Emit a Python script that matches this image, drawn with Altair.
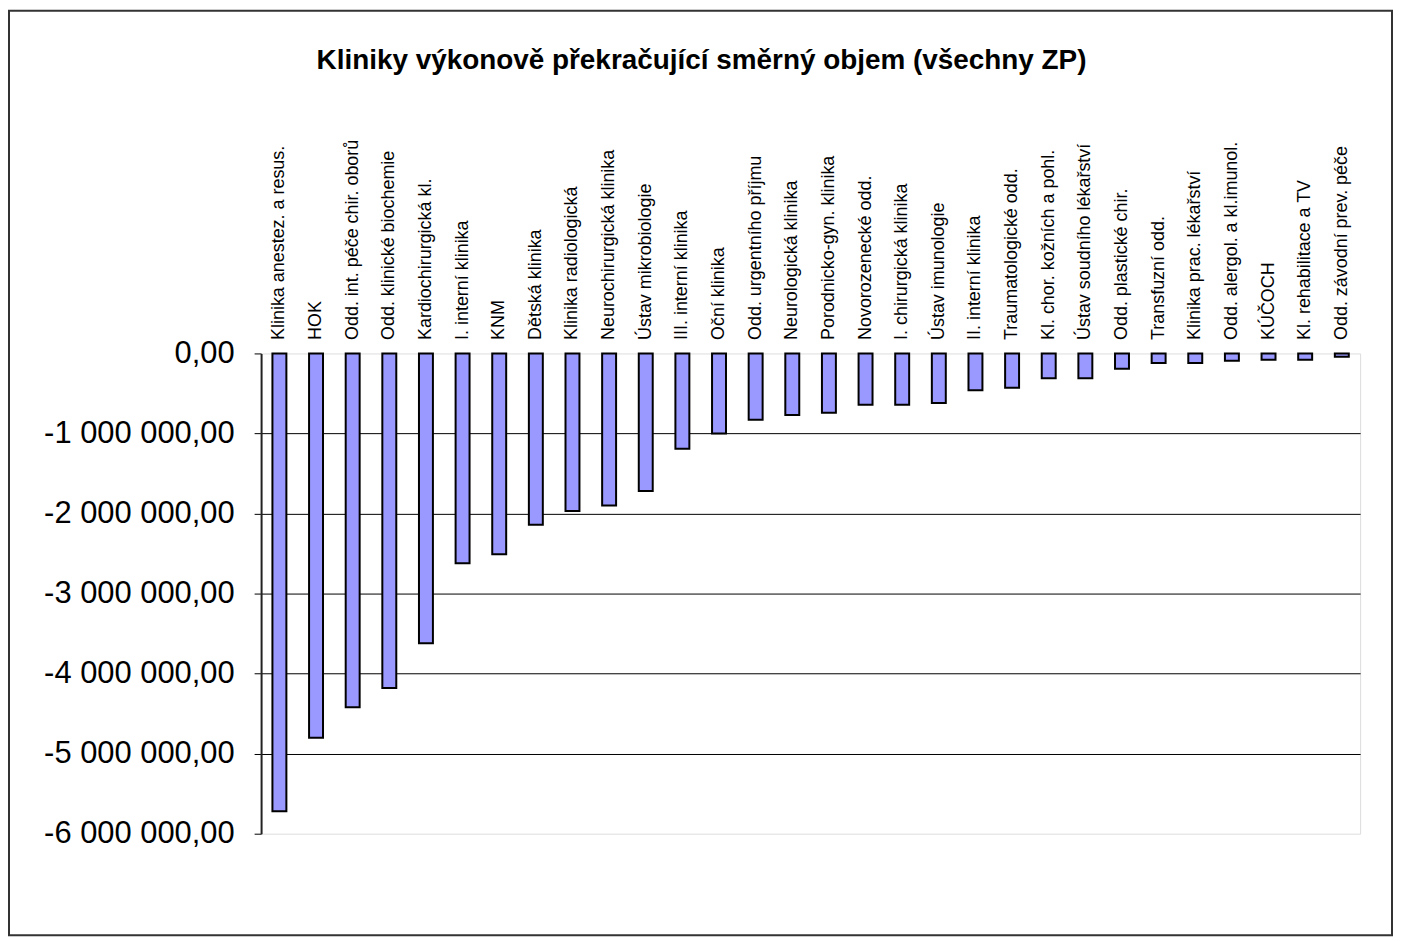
import altair as alt
import pandas as pd

categories = [
    "Klinika anestez. a resus.", "HOK", "Odd. int. péče chir. oborů",
    "Odd. klinické biochemie", "Kardiochirurgická kl.", "I. interní klinika",
    "KNM", "Dětská klinika", "Klinika radiologická", "Neurochirurgická klinika",
    "Ústav mikrobiologie", "III. interní klinika", "Oční klinika",
    "Odd. urgentního příjmu", "Neurologická klinika", "Porodnicko-gyn. klinika",
    "Novorozenecké odd.", "I. chirurgická klinika", "Ústav imunologie",
    "II. interní klinika", "Traumatologické odd.", "Kl. chor. kožních a pohl.",
    "Ústav soudního lékařství", "Odd. plastické chir.", "Transfuzní odd.",
    "Klinika prac. lékařství", "Odd. alergol. a kl.imunol.", "KÚČOCH",
    "Kl. rehabilitace a TV", "Odd. závodní prev. péče",
]
values = [
    -5720000, -4800000, -4420000, -4180000, -3620000, -2620000, -2510000,
    -2140000, -1970000, -1900000, -1720000, -1190000, -1000000, -830000,
    -770000, -740000, -640000, -640000, -620000, -460000, -430000, -310000,
    -310000, -190000, -120000, -120000, -90000, -80000, -80000, -40000,
]
y_ticks = [0, -1000000, -2000000, -3000000, -4000000, -5000000, -6000000]
title_text = "Kliniky výkonově překračující směrný objem (všechny ZP)"

FONT = "Liberation Sans, Arial, sans-serif"
W, H = 1103, 482
PAD = {"left": 254, "top": 345, "right": 34, "bottom": 104}

df = pd.DataFrame({"klinika": categories, "hodnota": values})

bars = alt.Chart(df).mark_bar(
    size=14, color="#9999FF", stroke="black", strokeWidth=2
).encode(
    x=alt.X(
        "klinika:N", sort=None, title=None,
        axis=alt.Axis(
            orient="top", labelAngle=-90, labelAlign="left",
            labelBaseline="middle", ticks=False, domain=False,
            labelPadding=14, labelFont=FONT, labelFontSize=18,
            labelColor="black", labelLimit=400,
        ),
        scale=alt.Scale(paddingInner=0, paddingOuter=0),
    ),
    y=alt.Y(
        "hodnota:Q", title=None,
        scale=alt.Scale(domain=[-6000000, 0], nice=False),
        axis=alt.Axis(
            values=y_ticks, grid=True, gridColor="black", gridWidth=1,
            gridOpacity={"condition": {"test": "datum.value === 0 || datum.value === -6000000", "value": 0}, "value": 1},
            domain=True, domainColor="#222222", domainWidth=2,
            tickColor="black", tickSize=7, tickWidth=1,
            labelPadding=20, labelFont=FONT, labelFontSize=31,
            labelColor="black", labelLimit=400,
            labelExpr="(datum.value < 0 ? '-' : '') + replace(replace(format(abs(datum.value), ',.2f'), regexp(',', 'g'), ' '), '.', ',')",
        ),
    ),
)

border = alt.Chart(pd.DataFrame({"b": [1]})).mark_rect(
    fill=None, stroke="#333333", strokeWidth=2
).encode(
    x=alt.value(-253), x2=alt.value(W + PAD["right"] - 2),
    y=alt.value(-344), y2=alt.value(H + PAD["bottom"] - 2),
)

title = alt.Chart(pd.DataFrame({"t": [title_text]})).mark_text(
    font=FONT, fontSize=28, fontWeight="bold", color="black",
    align="center", baseline="middle",
).encode(
    text="t:N", x=alt.value(442), y=alt.value(-293),
)

chart = alt.layer(border, bars, title).properties(
    width=W, height=H,
    autosize=alt.AutoSizeParams(type="none"),
    padding=PAD,
).configure_view(
    stroke="#808080", strokeWidth=2
).configure(background="white")

chart.save("out.html", embed_options={"renderer": "svg", "actions": False})
